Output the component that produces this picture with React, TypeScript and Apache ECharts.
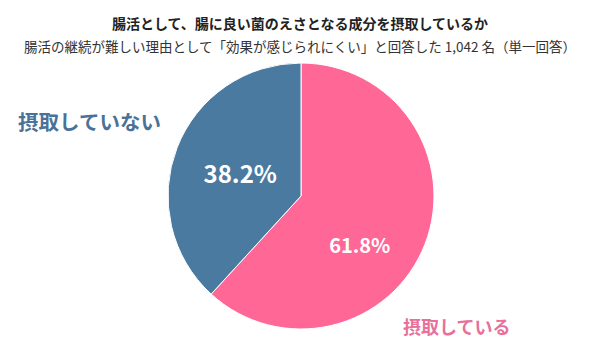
import React, { useEffect, useRef } from "react";
import * as echarts from "echarts";

const categories = ["摂取している", "摂取していない"];
const values = [61.8, 38.2];
const colors = ["#FF6896", "#4A7AA0"];
const nameColors = ["#E8709A", "#4A7298"];
const titleText = "腸活として、腸に良い菌のえさとなる成分を摂取しているか";
const subText = "腸活の継続が難しい理由として「効果が感じられにくい」と回答した 1,042 名（単一回答）";

const FONT = "'Noto Sans CJK JP', 'Noto Sans', sans-serif";

export default function App() {
  const ref = useRef<HTMLDivElement>(null);
  useEffect(() => {
    if (!ref.current) return;
    const chart = echarts.init(ref.current, null, { renderer: "svg" });
    chart.setOption({
      animation: false,
      backgroundColor: "#ffffff",
      title: [
        {
          text: titleText,
          left: "center",
          top: 11,
          textStyle: { fontFamily: FONT, fontSize: 14, fontWeight: "bold", color: "#222" },
        },
        {
          text: subText,
          left: "center",
          top: 34,
          textStyle: { fontFamily: FONT, fontSize: 13.5, fontWeight: "normal", color: "#333" },
        },
      ],
      graphic: [
        {
          type: "text",
          left: 18,
          top: 111,
          style: {
            text: categories[1],
            fontFamily: FONT,
            fontSize: 20.5,
            fontWeight: "bold",
            fill: nameColors[1],
          },
        },
        {
          type: "text",
          left: 403,
          top: 317,
          style: {
            text: categories[0],
            fontFamily: FONT,
            fontSize: 18,
            fontWeight: "bold",
            fill: nameColors[0],
          },
        },
      ],
      series: [
        {
          type: "pie",
          center: [301, 196],
          radius: [0, 133],
          startAngle: 90,
          clockwise: true,
          itemStyle: { borderColor: "#ffffff", borderWidth: 1 },
          label: {
            show: true,
            position: "inside",
            formatter: (p: any) => p.value.toFixed(1) + "%",
            fontFamily: FONT,
            fontWeight: "bold",
            color: "#ffffff",
          },
          labelLayout: (p: any) =>
            p.dataIndex === 0 ? { dx: -6, dy: 23 } : { dx: 4, dy: 2 },
          labelLine: { show: false },
          emphasis: { disabled: true },
          data: categories.map((c, i) => ({
            name: c,
            value: values[i],
            itemStyle: { color: colors[i] },
            label: { fontSize: i === 0 ? 20 : 24 },
          })),
        },
      ],
    });
    return () => chart.dispose();
  }, []);
  return (
    <div
      ref={ref}
      style={{ width: 600, height: 364, position: "absolute", left: 0, top: 0 }}
    />
  );
}
